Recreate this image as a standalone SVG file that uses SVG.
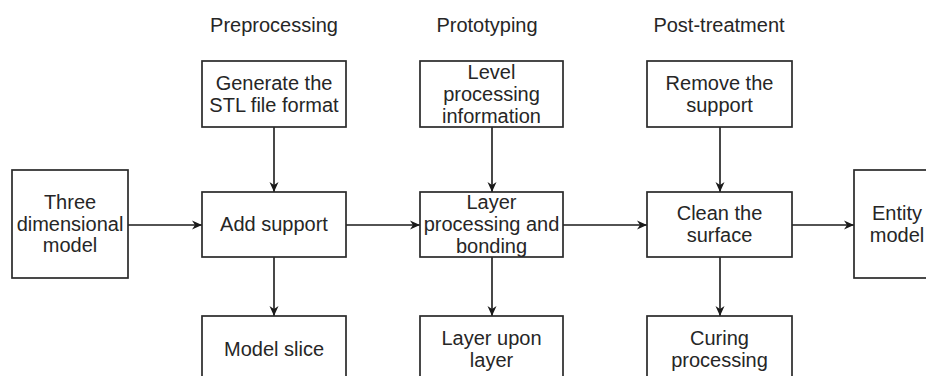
<svg xmlns="http://www.w3.org/2000/svg" width="926" height="376" viewBox="0 0 926 376">
<defs>
<marker id="arr" markerUnits="userSpaceOnUse" markerWidth="11" markerHeight="10" refX="10" refY="5" orient="auto">
<path d="M0,0.5 L10,5 L0,9.5 L3,5 Z" fill="#1a1a1a"/>
</marker>
<style>
.box{fill:#fff;stroke:#2a2a2a;stroke-width:1.7}
.t{font-family:"Liberation Sans",Arial,sans-serif;font-size:20px;fill:#262626;text-anchor:middle}
.c{fill:none;stroke:#1a1a1a;stroke-width:1.6;marker-end:url(#arr)}
</style>
</defs>
<rect width="926" height="376" fill="#fff"/>
<g id="headers">
<text class="t" x="274" y="32">Preprocessing</text>
<text class="t" x="487" y="32">Prototyping</text>
<text class="t" x="719" y="32">Post-treatment</text>
</g>
<g id="connectors">
<line class="c" x1="128" y1="225" x2="202" y2="225"/>
<line class="c" x1="346" y1="225" x2="420" y2="225"/>
<line class="c" x1="563" y1="225" x2="647" y2="225"/>
<line class="c" x1="792" y1="225" x2="854" y2="225"/>
<line class="c" x1="274" y1="127" x2="274" y2="192"/>
<line class="c" x1="274" y1="257" x2="274" y2="316"/>
<line class="c" x1="492" y1="127" x2="492" y2="192"/>
<line class="c" x1="492" y1="257" x2="492" y2="316"/>
<line class="c" x1="720" y1="127" x2="720" y2="192"/>
<line class="c" x1="720" y1="257" x2="720" y2="316"/>
</g>
<g id="three-dimensional-model">
<rect class="box" x="12" y="170" width="116" height="108"/>
<text class="t" x="70" y="209">Three</text>
<text class="t" x="70" y="231">dimensional</text>
<text class="t" x="70" y="252">model</text>
</g>
<g id="generate-stl">
<rect class="box" x="202" y="61" width="144" height="66"/>
<text class="t" x="274" y="90">Generate the</text>
<text class="t" x="274" y="112">STL file format</text>
</g>
<g id="add-support">
<rect class="box" x="202" y="192" width="144" height="65"/>
<text class="t" x="274" y="231">Add support</text>
</g>
<g id="model-slice">
<rect class="box" x="202" y="316" width="144" height="68"/>
<text class="t" x="274" y="356">Model slice</text>
</g>
<g id="level-processing">
<rect class="box" x="420" y="61" width="143" height="66"/>
<text class="t" x="491.5" y="79">Level</text>
<text class="t" x="491.5" y="101">processing</text>
<text class="t" x="491.5" y="122.5">information</text>
</g>
<g id="layer-processing">
<rect class="box" x="420" y="192" width="143" height="65"/>
<text class="t" x="491.5" y="209">Layer</text>
<text class="t" x="491.5" y="231">processing and</text>
<text class="t" x="491.5" y="252.5">bonding</text>
</g>
<g id="layer-upon-layer">
<rect class="box" x="420" y="316" width="143" height="68"/>
<text class="t" x="491.5" y="345">Layer upon</text>
<text class="t" x="491.5" y="367">layer</text>
</g>
<g id="remove-support">
<rect class="box" x="647" y="61" width="145" height="66"/>
<text class="t" x="719.5" y="90">Remove the</text>
<text class="t" x="719.5" y="112">support</text>
</g>
<g id="clean-surface">
<rect class="box" x="647" y="192" width="145" height="65"/>
<text class="t" x="719.5" y="220">Clean the</text>
<text class="t" x="719.5" y="242">surface</text>
</g>
<g id="curing-processing">
<rect class="box" x="647" y="316" width="145" height="68"/>
<text class="t" x="719.5" y="345">Curing</text>
<text class="t" x="719.5" y="367">processing</text>
</g>
<g id="entity-model">
<rect class="box" x="854" y="170" width="88" height="108"/>
<text class="t" x="897" y="220">Entity</text>
<text class="t" x="897" y="242">model</text>
</g>
</svg>
